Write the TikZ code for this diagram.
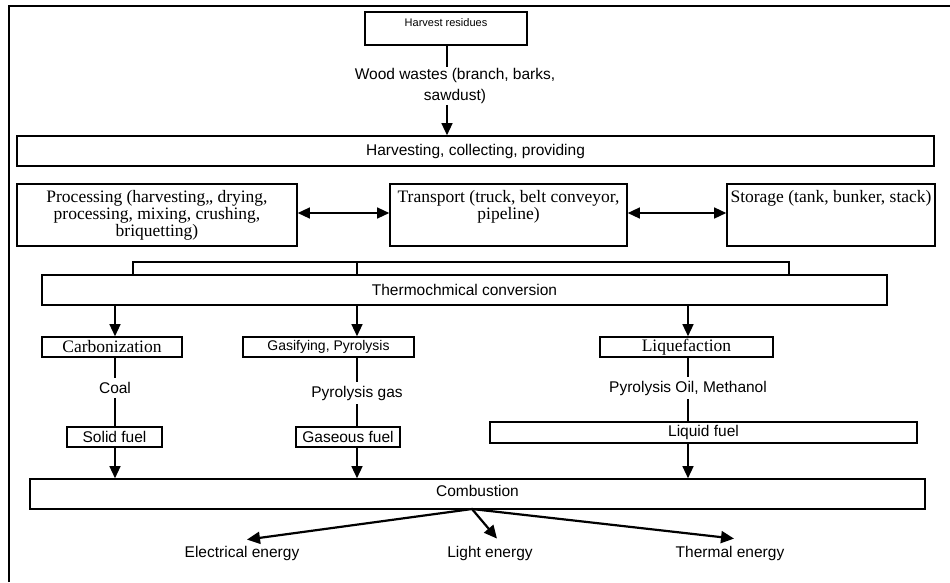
\documentclass[tikz,border=0pt]{standalone}
\usepackage{fontspec}
\setmainfont{Liberation Serif}
\newfontfamily\arialf{Liberation Sans}
\usetikzlibrary{arrows.meta,calc}
\tikzset{
  box/.style={draw, line width=1.6pt, inner sep=0pt},
  sanst/.style={font=\arialf\fontsize{15.5}{21}\selectfont, inner sep=1pt, align=center},
  smallsans/.style={font=\arialf\fontsize{11}{13}\selectfont},
  seriff/.style={font=\fontsize{17.5}{17}\selectfont, align=center},
  conn/.style={line width=1.3pt},
  arr/.style={line width=1.3pt, -{Triangle[length=12pt,width=11pt]}},
  darr/.style={line width=1.3pt, {Triangle[length=12pt,width=11pt]}-{Triangle[length=12pt,width=11pt]}},
  earr/.style={line width=2.2pt, -{Triangle[length=13pt,width=12pt]}},
}
\begin{document}
\begin{tikzpicture}[x=1pt,y=-1pt]
\useasboundingbox (0,0) rectangle (950,582);
% outer frame
\draw[line width=1.6pt] (9,582) -- (9,6) -- (950,6);

% Harvest residues
\node[box, minimum width=162pt, minimum height=33pt] (hr) at (446,28.5) {};
\node[smallsans, anchor=base] (hrt) at (446,26) {Harvest residues};
\node[sanst] (ww) at (455,86) {Wood wastes (branch, barks,\\sawdust)};
\node[box, minimum width=917pt, minimum height=30pt] (hc) at (475.5,151) {};
\node[sanst] (hct) at (hc.center) {Harvesting, collecting, providing};
\draw[conn] (hr.south -| 447,0) -- (ww.north -| 447,0);
\draw[arr] (ww.south -| 447,0) -- (hc.north -| 447,0);

% row of three
\node[box, minimum width=280pt, minimum height=62pt] (proc) at (157,215) {};
\node[seriff, anchor=north] (proct) at (157,187) {Processing (harvesting,, drying,\\processing, mixing, crushing,\\briquetting)};
\node[box, minimum width=237pt, minimum height=62pt] (trans) at (508.5,215) {};
\node[seriff, anchor=north] (transt) at (508.5,187) {Transport (truck, belt conveyor,\\pipeline)};
\node[box, minimum width=208pt, minimum height=62pt] (stor) at (831,215) {};
\node[seriff, anchor=north] (stort) at (831,187) {Storage (tank, bunker, stack)};
\draw[darr] (proc.east |- 0,213) -- (trans.west |- 0,213);
\draw[darr] (trans.east |- 0,213) -- (stor.west |- 0,213);

% thermochemical
\node[box, minimum width=845pt, minimum height=30pt] (th) at (464.5,290) {};
\node[sanst] (tht) at (th.center) {Thermochmical conversion};
\coordinate (b1) at (133,262);
\coordinate (b2) at (357,262);
\coordinate (b3) at (789,262);
\draw[conn] (th.north -| b1) -- (b1) -- (b3) -- (th.north -| b3);
\draw[conn] (b2) -- (th.north -| b2);

% second level boxes
\node[box, minimum width=140pt, minimum height=20pt] (carb) at (112,347) {};
\node[seriff] (carbt) at (carb.center) {Carbonization};
\node[box, minimum width=171pt, minimum height=20pt] (gas) at (328.5,347) {};
\node[sanst, font=\arialf\fontsize{14}{16}\selectfont] (gast) at (gas.center) {Gasifying, Pyrolysis};
\node[box, minimum width=173pt, minimum height=20pt] (liq) at (686.5,347) {};
\node[seriff] (liqt) at (liq.center) {Liquefaction};
\draw[arr] (th.south -| 115,0) -- (carb.north -| 115,0);
\draw[arr] (th.south -| 357,0) -- (gas.north -| 357,0);
\draw[arr] (th.south -| 688,0) -- (liq.north -| 688,0);

% products
\node[sanst, inner sep=4pt] (coal) at (115,388) {Coal};
\node[sanst, inner sep=4pt] (pgas) at (357,393) {Pyrolysis gas};
\node[sanst, inner sep=4pt] (poil) at (688,388) {Pyrolysis Oil, Methanol};

% fuels
\node[box, minimum width=95pt, minimum height=20pt] (solid) at (114.5,437) {};
\node[sanst] (solidt) at (solid.center) {Solid fuel};
\node[box, minimum width=104pt, minimum height=20pt] (gfuel) at (348,437) {};
\node[sanst] (gfuelt) at (gfuel.center) {Gaseous fuel};
\node[box, minimum width=427pt, minimum height=21pt] (lfuel) at (703.5,432.5) {};
\node[sanst] (lfuelt) at (lfuel.center) {Liquid fuel};

\draw[conn] (carb.south -| 115,0) -- (coal.north);
\draw[conn] (coal.south) -- (solid.north -| 115,0);
\draw[conn] (gas.south -| 357,0) -- (pgas.north);
\draw[conn] (pgas.south) -- (gfuel.north -| 357,0);
\draw[conn] (liq.south -| 688,0) -- (poil.north);
\draw[conn] (poil.south) -- (lfuel.north -| 688,0);

% combustion
\node[box, minimum width=895pt, minimum height=30pt] (comb) at (477.5,494) {};
\node[sanst] (combt) at (477.5,491) {Combustion};
\draw[arr] (solid.south -| 115,0) -- (comb.north -| 115,0);
\draw[arr] (gfuel.south -| 357,0) -- (comb.north -| 357,0);
\draw[arr] (lfuel.south -| 688,0) -- (comb.north -| 688,0);

% energies
\node[sanst] (el) at (242,553) {Electrical energy};
\node[sanst] (li) at (490,553) {Light energy};
\node[sanst] (te) at (730,553) {Thermal energy};
\coordinate (src) at (472,509);
\draw[earr] (src) -- ($(el.north)+(5,-5)$);
\draw[earr] (src) -- ($(li.north)+(7,-6)$);
\draw[earr] (src) -- ($(te.north)+(4,-6)$);
\end{tikzpicture}
\end{document}
